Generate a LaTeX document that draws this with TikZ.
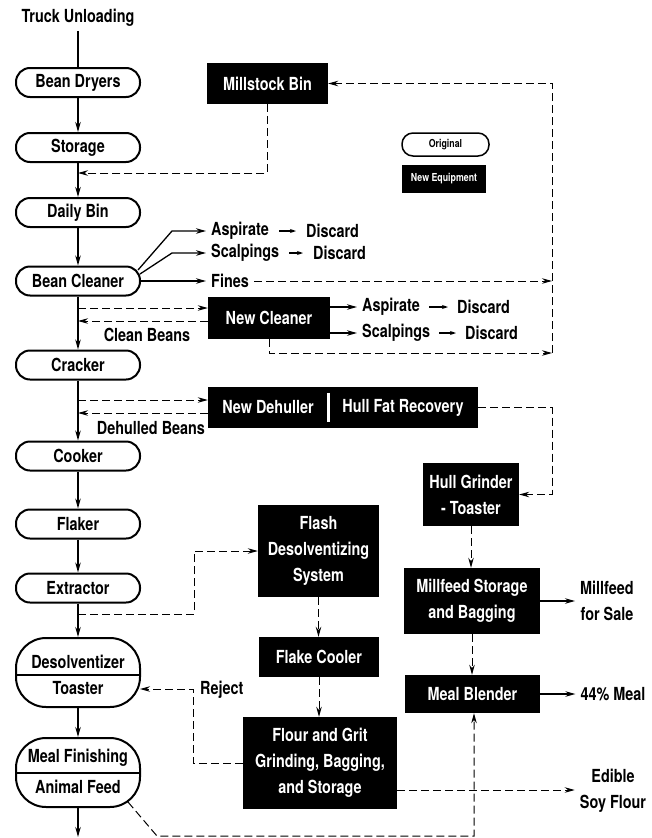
\documentclass[tikz,border=0pt]{standalone}
\usepackage{fontspec}
\setmainfont{TeX Gyre Heros}[FakeStretch=0.8]
\usetikzlibrary{arrows.meta,calc}
\begin{document}
\begin{tikzpicture}[x=1pt,y=-1pt,
  every node/.style={font=\bfseries\fontsize{18}{26}\selectfont, inner sep=0pt},
  orig/.style={draw, line width=2pt, rounded corners=14pt, minimum width=124pt, minimum height=29pt},
  origtwo/.style={draw, line width=2pt, rounded corners=30pt, minimum width=124pt, minimum height=69pt},
  neweq/.style={fill=black, text=white, align=center},
  lbl/.style={inner xsep=5pt, inner ysep=2pt},
  flow/.style={line width=1.3pt, -{Stealth[length=10pt,width=5.5pt]}},
  plainline/.style={line width=1.3pt},
  sarr/.style={line width=1.2pt, -{Stealth[length=6pt,width=4pt]}},
  dsh/.style={line width=1pt, dash pattern=on 8pt off 4pt},
  dsharr/.style={dsh, -{Stealth[length=10pt,width=5.5pt]}},
]
\useasboundingbox (0,0) rectangle (652,838);

% ---- main column ----
\node[inner sep=4pt] (tu) at (78,18) {Truck Unloading};
\node[orig] (bd) at (78,82.5) {Bean Dryers};
\node[orig] (st) at (78,147.5) {Storage};
\node[orig] (db) at (78,212.5) {Daily Bin};
\node[orig] (bc) at (78,281) {Bean Cleaner};
\node[orig] (cr) at (78,365) {Cracker};
\node[orig] (ck) at (78,456) {Cooker};
\node[orig] (fl) at (78,524) {Flaker};
\node[orig] (ex) at (78,588) {Extractor};
\node[origtwo] (dt) at (78,672.5) {};
\node (dttop) at (78,662) {Desolventizer};
\node (dtbot) at (78,688) {Toaster};
\draw[line width=1.5pt] (dt.west |- 0,675) -- (dt.east |- 0,675);
\node[origtwo] (mf) at (78,772.5) {};
\node (mftop) at (78,758) {Meal Finishing};
\node (mfbot) at (78,787) {Animal Feed};
\draw[line width=1.5pt] (mf.west |- 0,773) -- (mf.east |- 0,773);

\coordinate (j1) at (78,173);
\coordinate (cbo) at (78,308);
\coordinate (cbi) at (78,321);
\coordinate (dho) at (78,400);
\coordinate (dhi) at (78,413);
\coordinate (exj) at (78,614);
\coordinate (bot) at (78,837);

\draw[plainline] (tu) -- (bd);
\draw[flow] (bd) -- (st);
\draw[flow] (st) -- (db);
\draw[flow] (db) -- (bc);
\draw[flow] (bc) -- (cr);
\draw[flow] (cr) -- (ck);
\draw[flow] (ck) -- (fl);
\draw[flow] (fl) -- (ex);
\draw[flow] (ex) -- (dt);
\draw[flow] (dt) -- (mf);
\draw[flow] (mf) -- (bot);

% ---- legend ----
\node[draw, line width=1.5pt, rounded corners=11pt, minimum width=87pt, minimum height=23pt,
      font=\bfseries\fontsize{11}{12}\selectfont] (lgo) at (445.5,144.5) {Original};
\node[neweq, minimum width=84pt, minimum height=28pt,
      font=\bfseries\fontsize{11}{12}\selectfont] (lgn) at (444,179) {New Equipment};

% ---- new equipment ----
\node[neweq, minimum width=121pt, minimum height=41pt] (msb) at (267.5,83.5) {Millstock Bin};
\node[neweq, minimum width=122pt, minimum height=42pt] (nc) at (269,318) {New Cleaner};
\node[neweq, minimum width=120pt, minimum height=41pt] (ndh) at (268,407.5) {New Dehuller};
\node[neweq, minimum width=150pt, minimum height=41pt] (hfr) at (403,407.5) {Hull Fat Recovery};
\draw[white, line width=3pt] ([yshift=-6pt]ndh.north east) -- ([yshift=6pt]ndh.south east);
\node[neweq, minimum width=96pt, minimum height=63pt] (hg) at (471,494.5) {Hull Grinder\\- Toaster};
\node[neweq, minimum width=121pt, minimum height=92pt] (fds) at (318.5,551) {Flash\\Desolventizing\\System};
\node[neweq, minimum width=120pt, minimum height=40pt] (fc) at (319,657) {Flake Cooler};
\node[neweq, minimum width=154pt, minimum height=92pt] (fg) at (320,763) {Flour and Grit\\Grinding, Bagging,\\and Storage};
\node[neweq, minimum width=136pt, minimum height=66pt] (mfs) at (472,601) {Millfeed Storage\\and Bagging};
\node[neweq, minimum width=135pt, minimum height=38pt] (mb) at (472.5,694) {Meal Blender};

% ---- side labels ----
\node[lbl, anchor=west] (asp1) at (206,231) {Aspirate};
\node[lbl, anchor=west] (dis1) at (301,231) {Discard};
\node[lbl, anchor=west] (scl1) at (206,253) {Scalpings};
\node[lbl, anchor=west] (dis2) at (308,253) {Discard};
\node[lbl, anchor=west] (fin) at (206,281) {Fines};
\node[lbl, anchor=west] (asp2) at (357,307) {Aspirate};
\node[lbl, anchor=west] (dis3) at (452,307) {Discard};
\node[lbl, anchor=west] (scl2) at (357,333) {Scalpings};
\node[lbl, anchor=west] (dis4) at (460,333) {Discard};
\node (clb) at (147,335) {Clean Beans};
\node (dhb) at (151,428) {Dehulled Beans};
\node[lbl, anchor=west] (rej) at (195,690) {Reject};
\node[lbl, align=center] (mfsale) at (607,601) {Millfeed\\for Sale};
\node[lbl] (meal) at (613,694) {44\% Meal};
\node[lbl, align=center] (sf) at (613,791) {Edible\\Soy Flour};

% ---- bean cleaner outputs ----
\draw[flow] ($(bc.east)+(-3,-11)$) -- (172,231) -- (asp1.west);
\draw[flow] ($(bc.east)+(-1,-7)$) -- (172,253) -- (scl1.west);
\draw[flow] (bc.east) -- (fin.west);
\draw[sarr] ([xshift=5pt]asp1.east) -- ([xshift=-5pt]dis1.west);
\draw[sarr] ([xshift=5pt]scl1.east) -- ([xshift=-5pt]dis2.west);
\draw[sarr] ([xshift=4pt]asp2.east) -- ([xshift=-4pt]dis3.west);
\draw[sarr] ([xshift=4pt]scl2.east) -- ([xshift=-4pt]dis4.west);
\draw[flow] ([yshift=11pt]nc.east) -- (asp2.west);
\draw[flow] ([yshift=-15pt]nc.east) -- (scl2.west);

% ---- dashed loops top ----
\coordinate (rfin) at (552,281);
\coordinate (rbot) at (552,353);
\draw[dsharr] (msb.south) |- (j1);
\draw[dsharr] (fin.east) -- (rfin);
\draw[dsharr] (nc.south) |- (rbot);
\draw[dsharr] (rbot) |- (msb.east);
\draw[dsharr] (cbo) -- (nc.west |- cbo);
\draw[dsharr] (nc.west |- cbi) -- (cbi);
\draw[dsharr] (dho) -- (ndh.west |- dho);
\draw[dsharr] (ndh.west |- dhi) -- (dhi);
\coordinate (hc) at (552,407.5);
\draw[dsharr] (hfr.east) -- (hc) |- (hg.east);

% ---- right column ----
\draw[dsharr] (hg.south) -- (hg.south |- mfs.north);
\draw[dsharr] (mfs.south) -- (mfs.south |- mb.north);
\draw[flow] (mfs.east) -- (mfsale.west |- mfs.east);
\draw[flow] (mb.east) -- (meal.west);

% ---- flash desolventizing branch ----
\coordinate (exc) at (194,614);
\draw[dsharr] (exj) -- (exc) |- (fds.west);
\draw[dsharr] (fds.south) -- (fds.south |- fc.north);
\draw[dsharr] (fc.south) -- (fc.south |- fg.north);
\coordinate (rj1) at (193,763);
\coordinate (rjt) at (140,689);
\draw[dsharr] (fg.west) -- (rj1) |- (rjt);
\draw[dsharr] ([yshift=-27pt]fg.east) -- ([yshift=-27pt]fg.east -| sf.west);

% ---- animal feed to meal blender ----
\coordinate (af1) at (128,802);
\coordinate (af2) at (157,836);
\draw[dsharr] (af1) -- (af2) -| ([xshift=1.5pt]mb.south);
\end{tikzpicture}
\end{document}
